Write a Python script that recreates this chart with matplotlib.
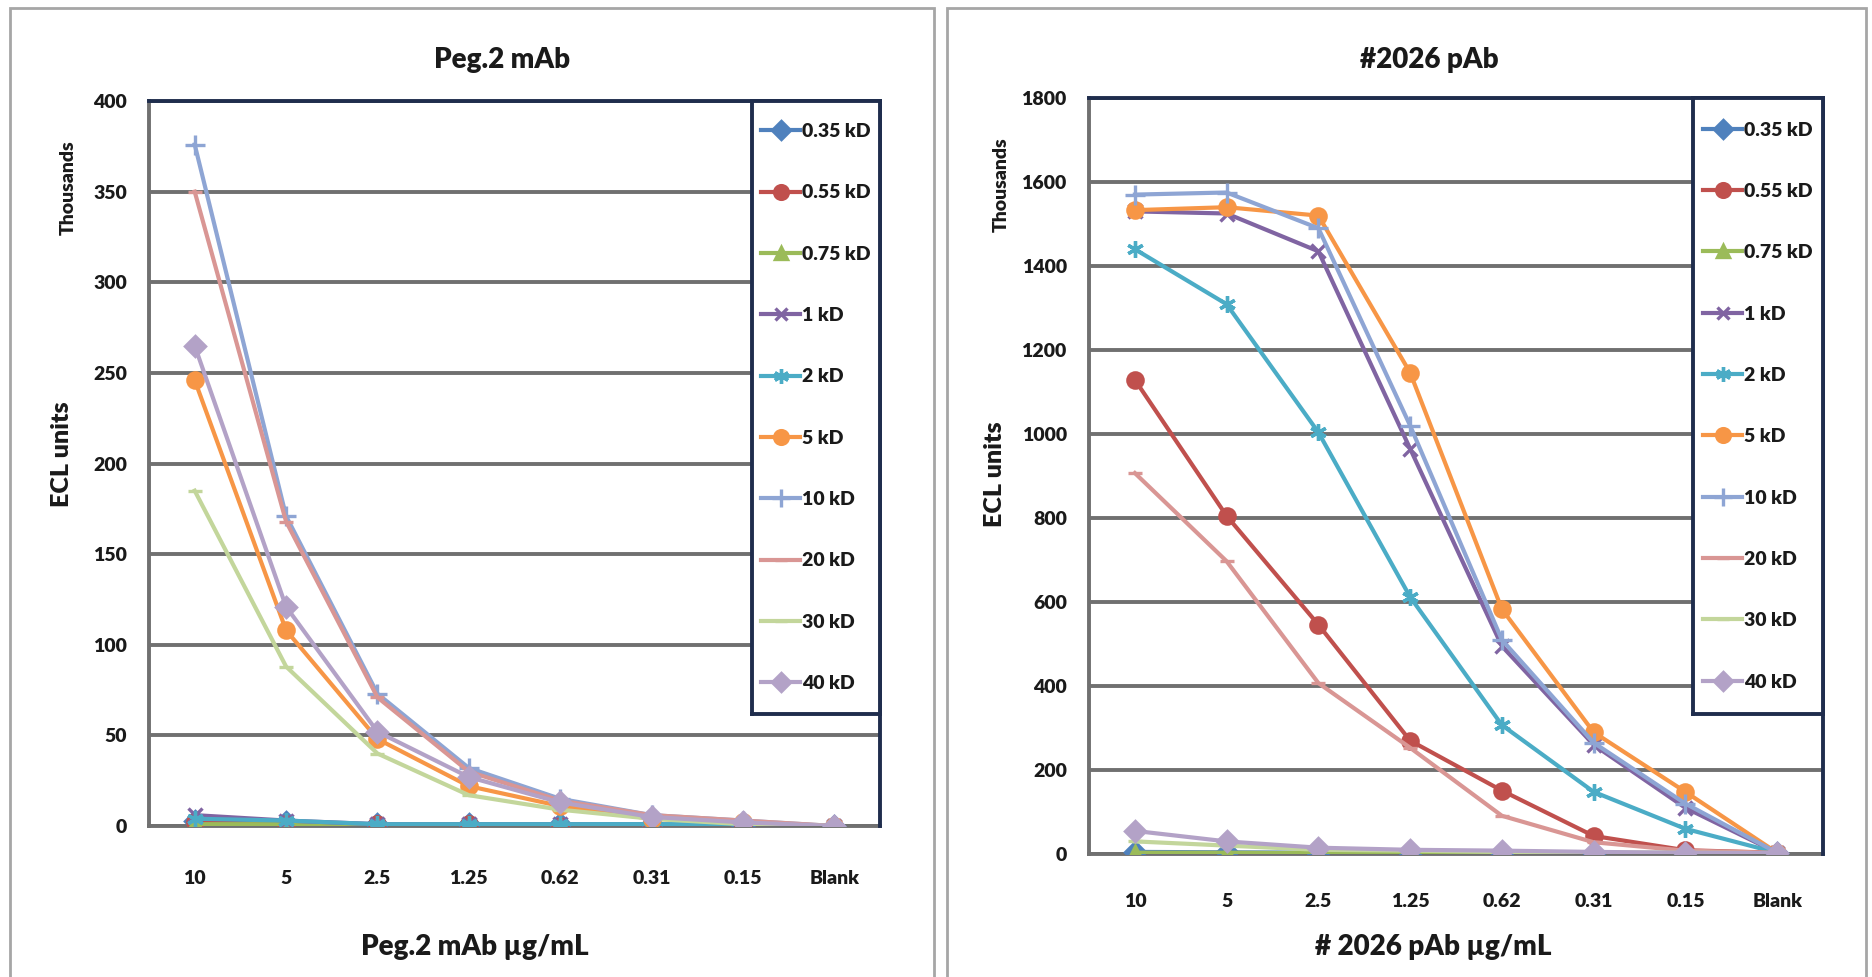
import matplotlib
matplotlib.use("Agg")
import matplotlib.pyplot as plt
from matplotlib.patches import Rectangle
import numpy as np

plt.rcParams['font.family'] = ['Lato', 'DejaVu Sans']

conc = ["10", "5", "2.5", "1.25", "0.62", "0.31", "0.15", "Blank"]
series = ["0.35 kD", "0.55 kD", "0.75 kD", "1 kD", "2 kD", "5 kD", "10 kD", "20 kD", "30 kD", "40 kD"]

# ECL units (thousands), Peg.2 mAb
peg2 = {
    "0.35 kD": [3, 2, 1, 1, 1, 1, 0, 0],
    "0.55 kD": [2, 1, 1, 1, 0, 0, 0, 0],
    "0.75 kD": [1, 1, 0, 0, 0, 0, 0, 0],
    "1 kD":    [6, 3, 1, 1, 1, 0, 0, 0],
    "2 kD":    [4, 3, 1, 1, 1, 1, 1, 0],
    "5 kD":    [246, 108, 48, 22, 11, 4, 2, 0],
    "10 kD":   [376, 171, 73, 32, 15, 6, 3, 0],
    "20 kD":   [350, 168, 71, 30, 14, 6, 3, 0],
    "30 kD":   [185, 88, 40, 17, 9, 4, 1, 0],
    "40 kD":   [265, 121, 52, 27, 13, 5, 2, 0],
}

# ECL units (thousands), #2026 pAb
pab2026 = {
    "0.35 kD": [5, 4, 3, 2, 2, 2, 2, 2],
    "0.55 kD": [1129, 805, 546, 270, 151, 43, 9, 3],
    "0.75 kD": [3, 3, 2, 2, 2, 2, 2, 2],
    "1 kD":    [1530, 1525, 1435, 965, 495, 260, 110, 3],
    "2 kD":    [1440, 1309, 1004, 612, 307, 148, 60, 3],
    "5 kD":    [1533, 1540, 1520, 1146, 583, 290, 148, 3],
    "10 kD":   [1570, 1575, 1490, 1020, 510, 265, 120, 3],
    "20 kD":   [907, 697, 407, 253, 91, 28, 8, 3],
    "30 kD":   [30, 20, 10, 8, 5, 4, 3, 2],
    "40 kD":   [55, 30, 15, 10, 8, 5, 3, 2],
}

colors = ["#4F81BD", "#C0504D", "#9BBB59", "#8064A2", "#4BACC6", "#F79646",
          "#8EA5D4", "#D99694", "#C3D69B", "#B3A2C7"]
markers = ["D", "o", "^", "x", (6, 2, 0), "o", "+", "_", "_", "D"]
msizes = [10, 11, 10, 10, 12, 11, 14, 10, 10, 10]

navy = "#1F2D4D"
grid_c = "#707070"
txt = "#1a1a1a"

fig = plt.figure(figsize=(18.72, 9.77), dpi=100)

# panel frames
for x0, x1 in [(10, 934), (947, 1866)]:
    fig.patches.append(Rectangle((x0 / 1872, -0.05), (x1 - x0) / 1872, 1 - 8 / 977 + 0.05,
                                 transform=fig.transFigure, fill=False,
                                 edgecolor="#a6a6a6", lw=2))


def draw(rect, leg_rect, data, ymax, ystep, title, title_xy, xlabel, xlabel_xy,
         ylab_xy, thous_xy, xpad):
    ax = fig.add_axes(rect)
    x = np.arange(len(conc))
    for s, c, m, ms in zip(series, colors, markers, msizes):
        ax.plot(x, data[s], color=c, lw=3, marker=m, ms=ms, mew=2.4,
                mec=c, mfc=c, label=s)
    ax.set_xlim(-0.5, len(conc) - 0.5)
    ax.set_ylim(0, ymax)
    ax.set_yticks(np.arange(0, ymax + 1, ystep))
    ax.set_xticks(x)
    ax.set_xticklabels(conc)
    ax.yaxis.grid(True, color=grid_c, lw=2.8)
    ax.set_axisbelow(True)
    ax.tick_params(length=0, labelsize=14, colors=txt)
    ax.tick_params(axis="y", pad=16)
    ax.tick_params(axis="x", pad=xpad)
    for t in ax.get_xticklabels() + ax.get_yticklabels():
        t.set_fontweight("heavy")
    ax.spines["left"].set_color(grid_c)
    ax.spines["bottom"].set_color(grid_c)
    ax.spines["top"].set_color(navy)
    ax.spines["right"].set_color(navy)
    for sp in ax.spines.values():
        sp.set_linewidth(2.8)
    for sp in ["left", "bottom"]:
        ax.spines[sp].set_zorder(0.5)

    # legend box
    lax = fig.add_axes(leg_rect)
    lax.set_xticks([])
    lax.set_yticks([])
    lax.set_facecolor("white")
    for sp in lax.spines.values():
        sp.set_color(navy)
        sp.set_linewidth(2.8)
    h, l = ax.get_legend_handles_labels()
    leg = lax.legend(h, l, loc="center", frameon=False, fontsize=14,
                     labelspacing=2.28, handlelength=2.0, handletextpad=0.1,
                     borderaxespad=0, markerscale=0.9)
    for t in leg.get_texts():
        t.set_fontweight("heavy")
        t.set_color(txt)

    fig.text(title_xy[0] / 1872, 1 - title_xy[1] / 977, title, ha="center", va="center",
             fontsize=20, fontweight="heavy", color=txt)
    fig.text(xlabel_xy[0] / 1872, 1 - xlabel_xy[1] / 977, xlabel, ha="center", va="center",
             fontsize=20, fontweight="heavy", color=txt)
    fig.text(ylab_xy[0] / 1872, 1 - ylab_xy[1] / 977, "ECL units", ha="center", va="center",
             rotation=90, fontsize=18, fontweight="heavy", color=txt)
    fig.text(thous_xy[0] / 1872, 1 - thous_xy[1] / 977, "Thousands", ha="center", va="center",
             rotation=90, fontsize=14, fontweight="heavy", color=txt)


draw([149 / 1872, 1 - 826 / 977, 731 / 1872, 725 / 977],
     [752 / 1872, 1 - 714 / 977, 128 / 1872, 613 / 977],
     peg2, 400, 50, "Peg.2 mAb", (502, 60), "Peg.2 mAb µg/mL", (475, 947),
     (62, 454), (68, 188), 32)

draw([1089 / 1872, 1 - 854 / 977, 734 / 1872, 756 / 977],
     [1693 / 1872, 1 - 714 / 977, 130 / 1872, 616 / 977],
     pab2026, 1800, 200, "#2026 pAb", (1429, 60), "# 2026 pAb µg/mL", (1433, 947),
     (995, 474), (1001, 185), 28)

fig.savefig("out.png", dpi=100)
